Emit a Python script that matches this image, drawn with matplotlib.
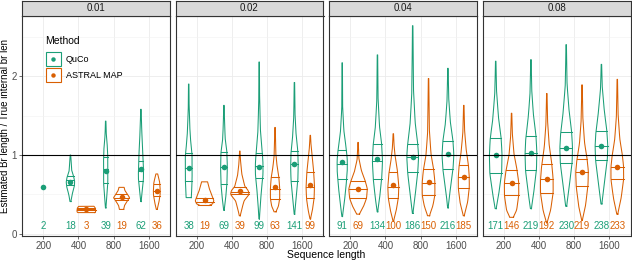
import numpy as np
import matplotlib.pyplot as plt
from matplotlib.patches import Rectangle
from matplotlib.lines import Line2D

plt.rcParams['font.family'] = ['Liberation Sans', 'DejaVu Sans']

rates = ["0.01", "0.02", "0.04", "0.08"]
lengths = ["200", "400", "800", "1600"]
methods = ["QuCo", "ASTRAL MAP"]
teal = "#1B9E77"
orange = "#D95F02"

# counts printed under each violin (None = no result)
quco_n = [[2, 18, 39, 62], [38, 69, 99, 141], [91, 134, 186, 216], [171, 219, 230, 238]]
astral_n = [[None, 3, 19, 36], [19, 39, 63, 99], [69, 100, 150, 185], [146, 192, 219, 233]]

# means (dots)
quco_mean = [[0.60, 0.66, 0.80, 0.82], [0.84, 0.85, 0.85, 0.88],
             [0.91, 0.95, 0.98, 1.01], [1.00, 1.03, 1.09, 1.12]]
astral_mean = [[None, 0.31, 0.47, 0.55], [0.43, 0.55, 0.59, 0.62],
               [0.57, 0.62, 0.66, 0.72], [0.65, 0.70, 0.79, 0.85]]

# quartiles (25%, 50%, 75%)
quco_q = [[None, (0.62, 0.68, 0.73), (0.64, 0.82, 0.97), (0.67, 0.80, 0.93)],
          [(0.67, 0.84, 1.02), (0.63, 0.85, 1.04), (0.71, 0.86, 1.03), (0.67, 0.88, 1.05)],
          [(0.70, 0.89, 1.07), (0.70, 0.92, 1.14), (0.78, 0.97, 1.14), (0.82, 1.00, 1.18)],
          [(0.77, 1.00, 1.21), (0.81, 1.03, 1.24), (0.90, 1.09, 1.29), (0.94, 1.12, 1.30)]]
astral_q = [[None, (0.30, 0.31, 0.33), (0.43, 0.46, 0.50), (0.48, 0.55, 0.63)],
            [(0.37, 0.41, 0.46), (0.50, 0.53, 0.59), (0.44, 0.57, 0.72), (0.45, 0.60, 0.79)],
            [(0.45, 0.57, 0.67), (0.46, 0.59, 0.79), (0.49, 0.65, 0.82), (0.58, 0.72, 0.87)],
            [(0.49, 0.65, 0.81), (0.52, 0.69, 0.88), (0.61, 0.79, 0.95), (0.69, 0.85, 1.00)]]

# violin outlines: y levels and half widths
quco_y = [[[],
           [0.41, 0.50, 0.60, 0.66, 0.72, 0.80, 0.90, 1.00],
           [0.33, 0.50, 0.65, 0.80, 0.97, 1.10, 1.25, 1.43],
           [0.41, 0.55, 0.70, 0.82, 0.95, 1.10, 1.30, 1.58]],
          [[0.46, 0.55, 0.70, 0.85, 1.00, 1.15, 1.30, 1.60, 1.90],
           [0.30, 0.45, 0.63, 0.85, 1.04, 1.20, 1.40, 1.63],
           [0.19, 0.40, 0.60, 0.75, 0.90, 1.05, 1.30, 1.70, 2.18],
           [0.25, 0.45, 0.67, 0.85, 1.05, 1.25, 1.50, 1.92]],
          [[0.22, 0.40, 0.60, 0.80, 0.95, 1.10, 1.30, 1.60, 2.17],
           [0.28, 0.45, 0.70, 0.92, 1.14, 1.35, 1.70, 2.27],
           [0.26, 0.45, 0.78, 0.98, 1.14, 1.40, 1.80, 2.64],
           [0.33, 0.50, 0.82, 1.00, 1.18, 1.40, 1.70, 2.10]],
          [[0.32, 0.50, 0.77, 1.00, 1.21, 1.45, 1.80, 2.19],
           [0.32, 0.50, 0.81, 1.03, 1.24, 1.50, 1.80, 2.21],
           [0.35, 0.55, 0.90, 1.09, 1.29, 1.55, 1.90, 2.40],
           [0.38, 0.60, 0.94, 1.12, 1.30, 1.55, 1.85, 2.15]]]
quco_w = [[[],
           [0.01, 0.04, 0.09, 0.10, 0.08, 0.03, 0.02, 0.005],
           [0.005, 0.03, 0.05, 0.05, 0.05, 0.04, 0.015, 0.005],
           [0.005, 0.03, 0.06, 0.06, 0.05, 0.04, 0.02, 0.005]],
          [[0.06, 0.07, 0.08, 0.08, 0.08, 0.05, 0.03, 0.01, 0.005],
           [0.005, 0.04, 0.07, 0.08, 0.07, 0.03, 0.015, 0.005],
           [0.005, 0.03, 0.06, 0.09, 0.09, 0.07, 0.03, 0.01, 0.005],
           [0.005, 0.04, 0.08, 0.09, 0.08, 0.04, 0.015, 0.005]],
          [[0.005, 0.05, 0.09, 0.12, 0.12, 0.09, 0.04, 0.01, 0.005],
           [0.005, 0.05, 0.10, 0.12, 0.10, 0.05, 0.015, 0.005],
           [0.005, 0.05, 0.12, 0.14, 0.12, 0.06, 0.02, 0.005],
           [0.005, 0.04, 0.12, 0.14, 0.12, 0.06, 0.02, 0.005]],
          [[0.01, 0.07, 0.14, 0.15, 0.13, 0.07, 0.02, 0.005],
           [0.01, 0.06, 0.13, 0.14, 0.12, 0.06, 0.02, 0.005],
           [0.01, 0.06, 0.14, 0.15, 0.13, 0.07, 0.02, 0.005],
           [0.01, 0.06, 0.14, 0.15, 0.13, 0.07, 0.02, 0.005]]]
astral_y = [[[],
             [0.27, 0.28, 0.30, 0.33, 0.35],
             [0.31, 0.36, 0.42, 0.46, 0.50, 0.55, 0.59],
             [0.31, 0.40, 0.50, 0.56, 0.65, 0.72, 0.76]],
            [[0.36, 0.38, 0.42, 0.48, 0.56, 0.66],
             [0.23, 0.32, 0.42, 0.50, 0.55, 0.60, 0.75, 0.90, 1.05],
             [0.28, 0.35, 0.45, 0.58, 0.72, 0.85, 1.00, 1.35],
             [0.19, 0.30, 0.45, 0.60, 0.79, 0.95, 1.10, 1.25]],
            [[0.25, 0.35, 0.45, 0.57, 0.67, 0.80, 0.95, 1.16],
             [0.16, 0.30, 0.46, 0.60, 0.79, 0.95, 1.10, 1.27],
             [0.23, 0.35, 0.49, 0.66, 0.82, 1.00, 1.30, 1.97],
             [0.23, 0.40, 0.58, 0.72, 0.87, 1.05, 1.30, 1.63]],
            [[0.21, 0.30, 0.49, 0.65, 0.81, 1.00, 1.25, 1.53],
             [0.14, 0.30, 0.52, 0.69, 0.88, 1.10, 1.40, 1.78],
             [0.17, 0.35, 0.61, 0.79, 0.95, 1.15, 1.45, 1.89],
             [0.25, 0.45, 0.69, 0.85, 1.00, 1.20, 1.50, 1.96]]]
astral_w = [[[],
             [0.20, 0.22, 0.22, 0.21, 0.18],
             [0.05, 0.07, 0.14, 0.19, 0.14, 0.08, 0.06],
             [0.01, 0.05, 0.08, 0.08, 0.07, 0.04, 0.02]],
            [[0.10, 0.19, 0.22, 0.18, 0.12, 0.07],
             [0.01, 0.05, 0.10, 0.22, 0.20, 0.12, 0.05, 0.02, 0.005],
             [0.02, 0.08, 0.11, 0.11, 0.09, 0.05, 0.02, 0.005],
             [0.005, 0.05, 0.09, 0.10, 0.08, 0.05, 0.02, 0.005]],
            [[0.03, 0.13, 0.20, 0.22, 0.17, 0.08, 0.02, 0.005],
             [0.005, 0.07, 0.12, 0.13, 0.10, 0.05, 0.02, 0.005],
             [0.02, 0.10, 0.15, 0.15, 0.12, 0.06, 0.02, 0.005],
             [0.01, 0.09, 0.13, 0.13, 0.11, 0.06, 0.02, 0.005]],
            [[0.04, 0.12, 0.17, 0.17, 0.13, 0.06, 0.02, 0.005],
             [0.005, 0.09, 0.15, 0.15, 0.12, 0.06, 0.02, 0.005],
             [0.005, 0.08, 0.14, 0.15, 0.12, 0.06, 0.02, 0.005],
             [0.01, 0.09, 0.15, 0.15, 0.12, 0.06, 0.02, 0.005]]]

WIDTH_SCALE = 1.2


def smooth_outline(ys, ws):
    yy = np.linspace(ys[0], ys[-1], 120)
    ww = np.interp(yy, ys, ws)
    k = np.ones(5) / 5
    pad = np.concatenate([np.full(2, ww[0]), ww, np.full(2, ww[-1])])
    return yy, np.convolve(pad, k, mode='valid') * WIDTH_SCALE


def draw_violin(ax, pos, ys, ws, quart, mean, color):
    if len(ys) > 0:
        yy, ww = smooth_outline(ys, ws)
        xs = np.concatenate([pos + ww, (pos - ww)[::-1], [pos + ww[0]]])
        yv = np.concatenate([yy, yy[::-1], [yy[0]]])
        ax.plot(xs, yv, color=color, lw=0.75, zorder=3)
        for q in quart:
            wq = np.interp(q, yy, ww)
            ax.plot([pos - wq, pos + wq], [q, q], color=color, lw=0.75, zorder=3)
    ax.plot(pos, mean, 'o', color=color, ms=4, mec='none', zorder=4)


W, H = 632, 261
fig = plt.figure(figsize=(W / 100, H / 100), dpi=100)
panel_left = [22, 175.5, 329, 482.5]
pw = 148
ptop, pbot = 15.5, 236


def fx(px):
    return px / W


def fy(py):
    return 1 - py / H


for i, rate in enumerate(rates):
    ax = fig.add_axes([fx(panel_left[i]), fy(pbot), pw / W, (pbot - ptop) / H])
    ax.set_xlim(0.4, 4.6)
    ax.set_ylim(-0.027, 2.77)
    ax.set_yticks([0, 1, 2])
    ax.set_yticks([0.5, 1.5, 2.5], minor=True)
    ax.set_xticks(range(1, 5))
    ax.set_xticklabels(lengths)
    ax.grid(True, which='major', color='#EBEBEB', lw=0.6, zorder=0)
    ax.grid(True, which='minor', axis='y', color='#F2F2F2', lw=0.4, zorder=0)
    ax.tick_params(which='minor', length=0)
    ax.tick_params(which='major', length=2.5, width=0.5, color='#333333',
                   labelsize=7, labelcolor='#4D4D4D', pad=1)
    if i > 0:
        ax.tick_params(axis='y', labelleft=False, length=0)
    for s in ax.spines.values():
        s.set_color('#333333')
        s.set_linewidth(0.8)
    ax.set_axisbelow(True)
    ax.axhline(1, color='black', lw=0.8, zorder=5)

    for j in range(4):
        both = astral_n[i][j] is not None
        xq = j + 1 - 0.225 if both else j + 1
        draw_violin(ax, xq, quco_y[i][j], quco_w[i][j], quco_q[i][j] or [],
                    quco_mean[i][j], teal)
        ax.text(xq, 0.1, str(quco_n[i][j]), color=teal, fontsize=7,
                ha='center', va='center', zorder=6)
        if both:
            xa = j + 1 + 0.225
            draw_violin(ax, xa, astral_y[i][j], astral_w[i][j], astral_q[i][j],
                        astral_mean[i][j], orange)
            ax.text(xa, 0.1, str(astral_n[i][j]), color=orange, fontsize=7,
                    ha='center', va='center', zorder=6)

    # facet strip
    sax = fig.add_axes([fx(panel_left[i]), fy(ptop), pw / W, (ptop - 0.5) / H])
    sax.set_facecolor('#D9D9D9')
    sax.set_xticks([])
    sax.set_yticks([])
    for s in sax.spines.values():
        s.set_color('#333333')
        s.set_linewidth(0.8)
    sax.text(0.5, 0.5, rate, ha='center', va='center', fontsize=7, color='#1A1A1A',
             transform=sax.transAxes)

# legend drawn by hand inside the first panel
fig.text(fx(45), fy(41), "Method", ha='left', va='center', fontsize=7.5, zorder=10)
for k, (name, col) in enumerate(zip(methods, [teal, orange])):
    top = 52 + k * 15.5
    fig.patches.append(Rectangle((fx(46), fy(top + 14.5)), 15 / W, 14.5 / H,
                                 transform=fig.transFigure, facecolor='white',
                                 edgecolor=col, lw=0.8, zorder=10))
    fig.lines.append(Line2D([fx(53.5)], [fy(top + 7.25)], marker='o', ms=3.2,
                            color=col, mec='none', transform=fig.transFigure, zorder=11))
    fig.text(fx(66), fy(top + 7.5), name, ha='left', va='center', fontsize=6.5, zorder=10)

fig.text(fx(5.5), fy((ptop + pbot) / 2), "Estimated Br length / True internal br len",
         rotation=90, ha='center', va='center', fontsize=7, color='black')
fig.text(fx((22 + 630) / 2), fy(255), "Sequence length",
         ha='center', va='center', fontsize=7.5, color='black')

fig.savefig("out.png", dpi=100)
